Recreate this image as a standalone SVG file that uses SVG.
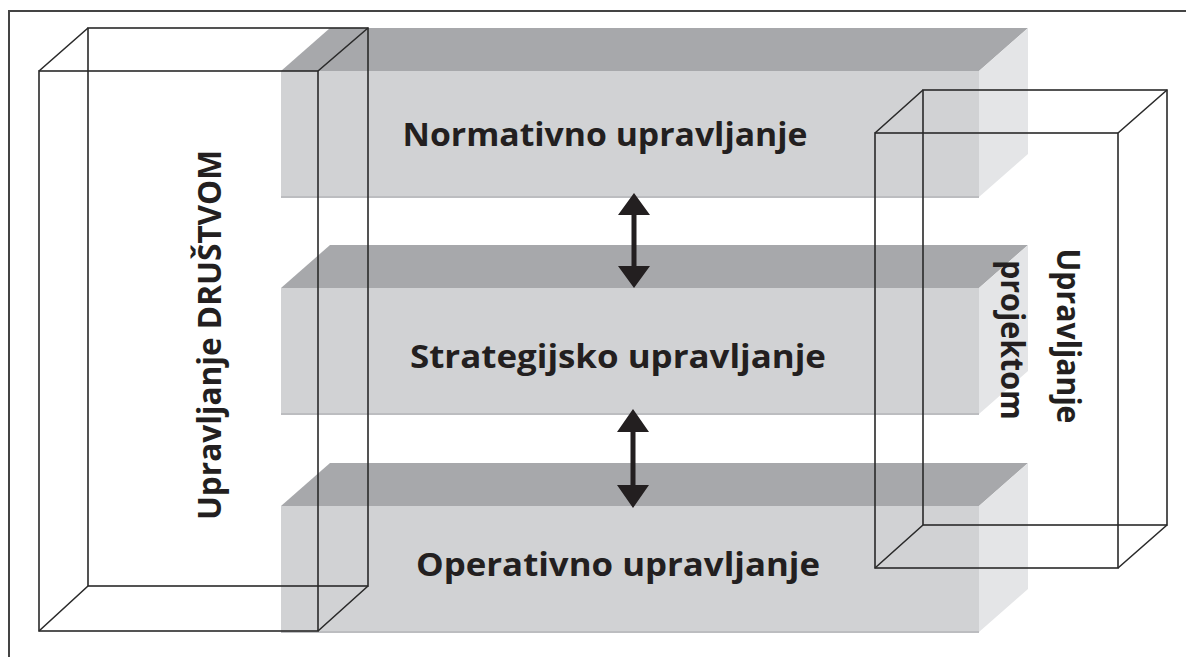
<svg xmlns="http://www.w3.org/2000/svg" width="1186" height="657" viewBox="0 0 1186 657">
<style>
.top{fill:#a7a8ab}
.front{fill:#d1d2d4}
.side{fill:#e4e5e7}
.edge{fill:none;stroke:#bcbdc0;stroke-width:2}
.box{fill:none;stroke:#2a2a2a;stroke-width:1.6}
.frame{fill:none;stroke:#444;stroke-width:2}
.lbl{font-family:"Open Sans","Liberation Sans",sans-serif;font-weight:bold;font-size:33px;fill:#231f20}
.arr{fill:#231f20}
</style>
<rect width="1186" height="657" fill="#ffffff"/>
<path class="frame" d="M9,657 V11 H1186"/>
<g id="slab-normativno">
<polygon class="top" points="281,71 330,28 1028,28 979,71"/>
<rect class="front" x="281" y="71" width="698" height="126"/>
<polygon class="side" points="979,71 1028,28 1028,154 979,197"/>
<line class="edge" x1="281" y1="197" x2="979" y2="197"/>
<text class="lbl" x="605" y="146" text-anchor="middle" textLength="405" lengthAdjust="spacingAndGlyphs">Normativno upravljanje</text>
</g>
<g id="slab-strategijsko">
<polygon class="top" points="281,288 330,245 1028,245 979,288"/>
<rect class="front" x="281" y="288" width="698" height="126"/>
<polygon class="side" points="979,288 1028,245 1028,371 979,414"/>
<line class="edge" x1="281" y1="414" x2="979" y2="414"/>
<text class="lbl" x="618" y="368" text-anchor="middle" textLength="416" lengthAdjust="spacingAndGlyphs">Strategijsko upravljanje</text>
</g>
<g id="slab-operativno">
<polygon class="top" points="281,506 330,463 1028,463 979,506"/>
<rect class="front" x="281" y="506" width="698" height="126"/>
<polygon class="side" points="979,506 1028,463 1028,589 979,632"/>
<line class="edge" x1="281" y1="632" x2="979" y2="632"/>
<text class="lbl" x="618" y="576" text-anchor="middle" textLength="404" lengthAdjust="spacingAndGlyphs">Operativno upravljanje</text>
</g>
<g id="box-drustvo">
<rect class="box" x="88" y="28" width="280" height="558"/>
<rect class="box" x="39" y="71" width="279" height="560"/>
<path class="box" d="M39,71 L88,28 M318,71 L368,28 M39,631 L88,586 M318,631 L368,586"/>
<text class="lbl" transform="translate(221,335) rotate(-90)" text-anchor="middle" textLength="370" lengthAdjust="spacingAndGlyphs">Upravljanje DRUŠTVOM</text>
</g>
<g id="box-projekt">
<rect class="box" x="923" y="90" width="244" height="435"/>
<rect class="box" x="875" y="133" width="243" height="435"/>
<path class="box" d="M875,133 L923,90 M1118,133 L1167,90 M875,568 L923,525 M1118,568 L1167,525"/>
<text class="lbl" transform="translate(1057,336) rotate(90)" text-anchor="middle" textLength="175" lengthAdjust="spacingAndGlyphs">Upravljanje</text>
<text class="lbl" transform="translate(1001,340) rotate(90)" text-anchor="middle" textLength="160" lengthAdjust="spacingAndGlyphs">projektom</text>
</g>
<g id="connectors">
<g class="arr">
<polygon points="634,193 650,215 636.5,215 636.5,266 650,266 634,288 618,266 631.5,266 631.5,215 618,215"/>
<polygon points="633,409 649,432 635.5,432 635.5,485 649,485 633,508 617,485 630.5,485 630.5,432 617,432"/>
</g>
</g>
</svg>
